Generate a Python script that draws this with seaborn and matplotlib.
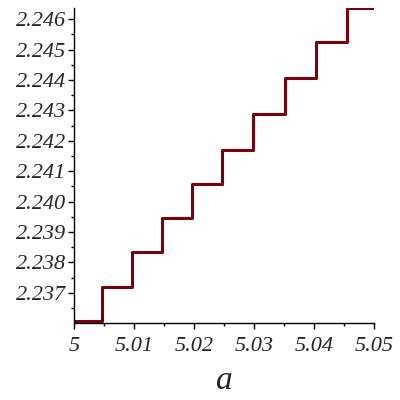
import matplotlib
matplotlib.use("Agg")
import matplotlib.pyplot as plt
import seaborn as sns

# data (step function of a)
a_vals = [5.0, 5.0046, 5.0096, 5.0146, 5.0196, 5.0246, 5.0298, 5.0351, 5.0404, 5.0455, 5.0498]
f_vals = [2.23609, 2.23719, 2.23836, 2.23945, 2.24058, 2.24170, 2.24288, 2.24406, 2.24524, 2.24638, 2.24638]

x_ticks = [5.0, 5.01, 5.02, 5.03, 5.04, 5.05]
x_labels = ["5", "5.01", "5.02", "5.03", "5.04", "5.05"]
y_ticks = [2.237, 2.238, 2.239, 2.240, 2.241, 2.242, 2.243, 2.244, 2.245, 2.246]
y_labels = ["2.237", "2.238", "2.239", "2.240", "2.241", "2.242", "2.243", "2.244", "2.245", "2.246"]

sns.set_style("ticks")
plt.rcParams["font.family"] = ["Liberation Serif", "DejaVu Serif"]

fig = plt.figure(figsize=(4, 4), dpi=100)
ax = fig.add_axes([0.185, 0.1925, 0.75, 0.7875])

sns.lineplot(x=a_vals, y=f_vals, drawstyle="steps-post", color="#7a0010",
             linewidth=2.2, ax=ax, sort=False)

ax.set_xlim(5.0, 5.05)
ax.set_ylim(2.23601, 2.24637)

ax.set_xticks(x_ticks)
ax.set_xticklabels(x_labels, fontsize=16, fontstyle="italic")
ax.set_yticks(y_ticks)
ax.set_yticklabels(y_labels, fontsize=16, fontstyle="italic")
ax.set_xticks([5.005, 5.015, 5.025, 5.035, 5.045], minor=True)
ax.set_yticks([2.2365, 2.2375, 2.2385, 2.2395, 2.2405, 2.2415, 2.2425,
               2.2435, 2.2445, 2.2455], minor=True)
ax.tick_params(axis="both", which="major", length=4, width=1, color="black", pad=6)
ax.tick_params(axis="both", which="minor", length=2.5, width=1, color="black")
ax.tick_params(axis="y", which="major", pad=1.5)

ax.set_xlabel("a", fontsize=24, fontstyle="italic", labelpad=7)
ax.set_ylabel("")

sns.despine(ax=ax)
for s in ["left", "bottom"]:
    ax.spines[s].set_color("black")
    ax.spines[s].set_linewidth(1)

fig.savefig("out.png", dpi=100)
